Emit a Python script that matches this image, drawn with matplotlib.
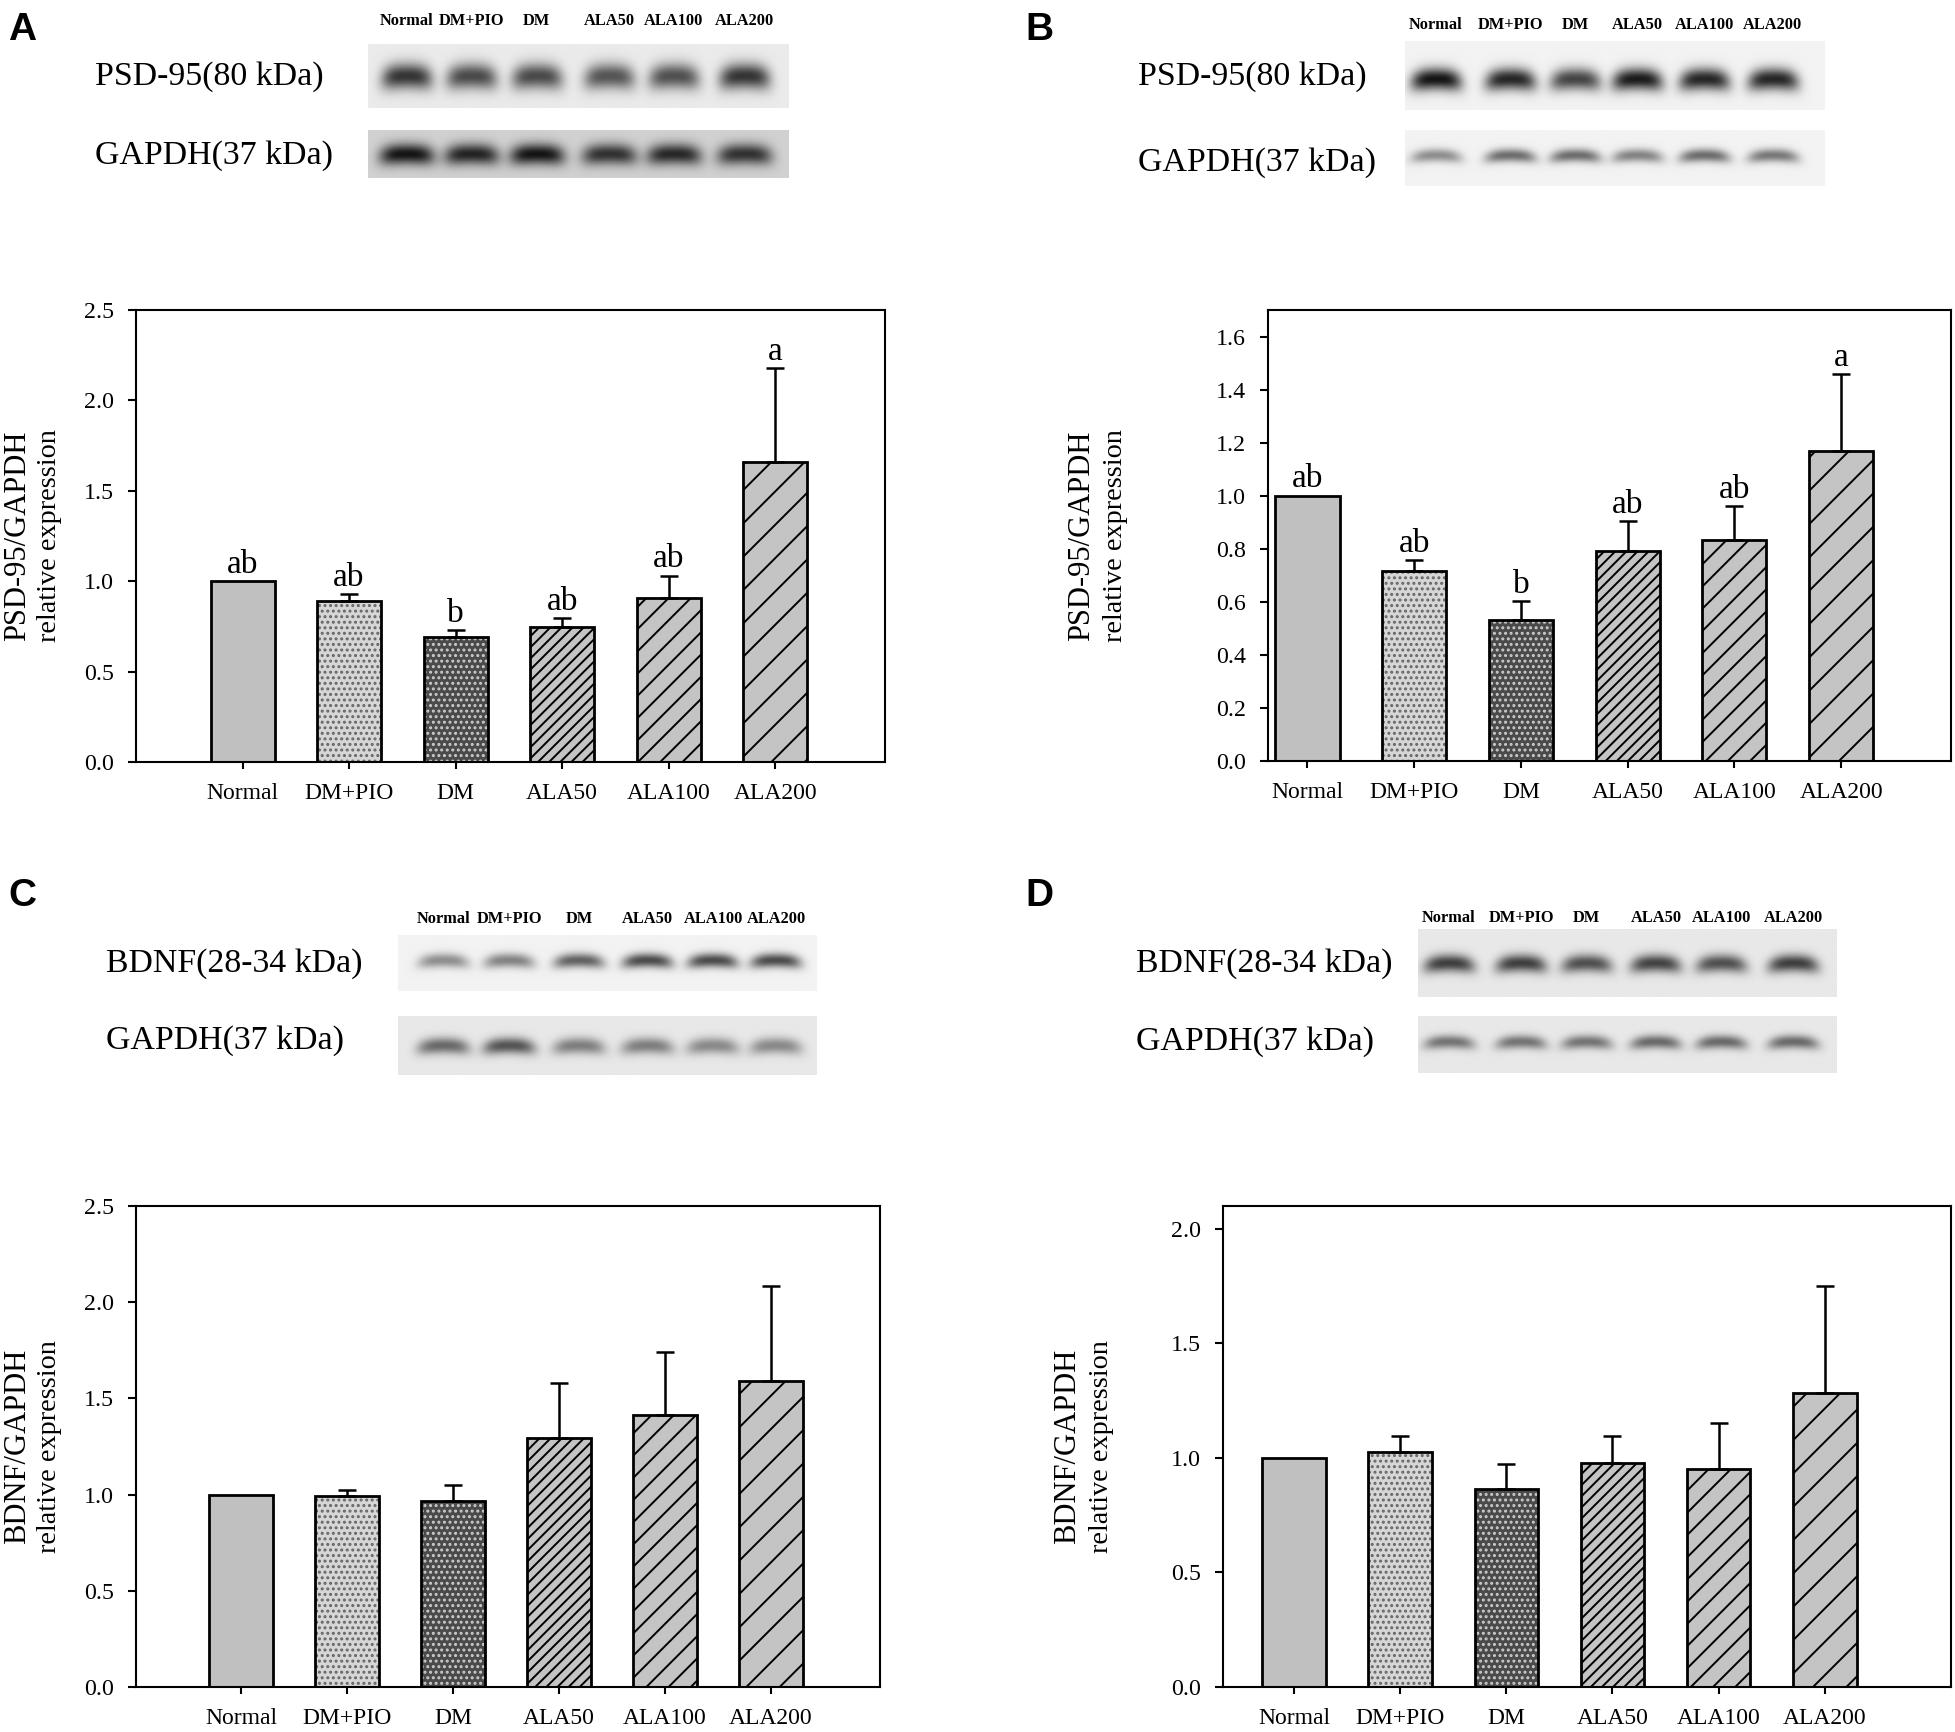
import numpy as np
import matplotlib.pyplot as plt

# ---- data ----
groups = ['Normal', 'DM+PIO', 'DM', 'ALA50', 'ALA100', 'ALA200']

psd_a_mean = [1.00, 0.89, 0.69, 0.745, 0.905, 1.657]
psd_a_err = [0.0, 0.04, 0.04, 0.05, 0.125, 0.52]
psd_a_sig = ['ab', 'ab', 'b', 'ab', 'ab', 'a']

psd_b_mean = [1.00, 0.715, 0.532, 0.79, 0.833, 1.167]
psd_b_err = [0.0, 0.043, 0.07, 0.114, 0.127, 0.292]
psd_b_sig = ['ab', 'ab', 'b', 'ab', 'ab', 'a']

bdnf_c_mean = [1.00, 0.995, 0.965, 1.295, 1.412, 1.593]
bdnf_c_err = [0.0, 0.028, 0.085, 0.285, 0.33, 0.492]

bdnf_d_mean = [1.00, 1.027, 0.864, 0.978, 0.951, 1.283]
bdnf_d_err = [0.0, 0.071, 0.109, 0.12, 0.201, 0.467]

# western blot band darkness per lane (0 = none, 1 = black)
blot_a_psd = [0.85, 0.75, 0.75, 0.70, 0.72, 0.85]
blot_a_gapdh = [1.0, 0.92, 1.0, 0.85, 0.9, 0.85]
blot_b_psd = [1.0, 0.92, 0.78, 0.97, 0.92, 0.92]
blot_b_gapdh = [0.45, 0.6, 0.6, 0.5, 0.6, 0.55]
blot_c_bdnf = [0.45, 0.5, 0.65, 0.75, 0.75, 0.75]
blot_c_gapdh = [0.6, 0.7, 0.5, 0.5, 0.45, 0.45]
blot_d_bdnf = [0.8, 0.8, 0.72, 0.78, 0.72, 0.8]
blot_d_gapdh = [0.55, 0.55, 0.55, 0.6, 0.6, 0.6]

W, H = 1955, 1732
plt.rcParams['font.family'] = ['Liberation Serif', 'DejaVu Serif']
plt.rcParams['hatch.linewidth'] = 0.7

fig = plt.figure(figsize=(W / 200, H / 200), dpi=200)


def px_axes(x0, y0, x1, y1):
    return fig.add_axes([x0 / W, 1 - y1 / H, (x1 - x0) / W, (y1 - y0) / H])


def fig_xy(x, y):
    return x / W, 1 - y / H


# bar styles: face, hatch colour, hatch
styles = [
    ('#c0c0c0', '#c0c0c0', None),
    ('#d6d6d6', '#666666', '......'),
    ('#4a4a4a', '#cccccc', '......'),
    ('#c4c4c4', 'black', '//////'),
    ('#c4c4c4', 'black', '///'),
    ('#c4c4c4', 'black', '//'),
]


def bar_panel(box, means, errs, ylim, yticks, xlim, sig=None, ylab1='', ylab_x=(0, 0)):
    ax = px_axes(*box)
    x = np.arange(len(groups))
    for i in range(len(groups)):
        face, hc, hatch = styles[i]
        ax.bar(x[i], means[i], width=0.6, color=face, edgecolor=hc,
               hatch=hatch, linewidth=0, zorder=2)
        ax.bar(x[i], means[i], width=0.6, facecolor='none', edgecolor='black',
               linewidth=1.0, zorder=3)
    e = np.array(errs)
    m = e > 0
    ax.errorbar(x[m], np.array(means)[m], yerr=[np.zeros(m.sum()), e[m]],
                fmt='none', ecolor='black', elinewidth=0.9, capsize=3.2,
                capthick=0.9, zorder=4)
    if sig is not None:
        for i in range(len(groups)):
            ax.annotate(sig[i], (x[i], means[i] + errs[i]), xytext=(0, 3),
                        textcoords='offset points', ha='center', va='baseline',
                        fontsize=12)
    ax.set_xlim(*xlim)
    ax.set_ylim(*ylim)
    ax.set_yticks(yticks)
    ax.set_yticklabels(['%.1f' % t for t in yticks])
    ax.set_xticks(x)
    ax.set_xticklabels(groups)
    ax.tick_params(axis='both', direction='out', width=0.75)
    ax.tick_params(axis='x', length=2.5, pad=5, labelsize=8.5)
    ax.tick_params(axis='y', length=2.9, pad=5, labelsize=8.6)
    for s in ax.spines.values():
        s.set_linewidth(0.75)
    yc = (box[1] + box[3]) / 2
    fig.text(*fig_xy(ylab_x[0], yc), ylab1, rotation=90, ha='center', va='center', fontsize=11)
    fig.text(*fig_xy(ylab_x[1], yc), 'relative expression', rotation=90, ha='center',
             va='center', fontsize=10.2)
    return ax


def blot(box, levels, lanes, bg, thick, ycen=0.5, wid=0.055):
    ax = px_axes(*box)
    ny, nx = 80, 400
    xx = np.linspace(0, 1, nx)[None, :]
    yy = np.linspace(0, 1, ny)[:, None]
    img = np.full((ny, nx), bg)
    for lvl, xc in zip(levels, lanes):
        shape_x = np.exp(-np.abs((xx - xc) / wid) ** 4)
        yc = ycen + 0.05 * ((xx - xc) / wid) ** 2
        shape_y = np.exp(-((yy - yc) / thick) ** 2)
        img = img - (bg - 0.08) * lvl * shape_x * shape_y
    ax.imshow(img, cmap='gray', vmin=0, vmax=1, extent=[0, 1, 0, 1],
              aspect='auto', origin='upper', interpolation='bilinear')
    ax.set_axis_off()
    return ax


def lane_labels(box, lanes, y):
    x0, x1 = box[0], box[2]
    for g, f in zip(groups, lanes):
        fig.text(*fig_xy(x0 + f * (x1 - x0), y), g, ha='center', va='center',
                 fontsize=5.9, fontweight='bold')


def panel_letter(x, y, s):
    fig.text(*fig_xy(x, y), s, ha='left', va='top', fontsize=14, fontweight='bold',
             family=['Liberation Sans', 'DejaVu Sans'])


# ---- panel A ----
lanes_a = [0.092, 0.246, 0.402, 0.574, 0.728, 0.896]
panel_letter(8, 12, 'A')
box = (368, 44, 788, 108)
blot(box, blot_a_psd, lanes_a, 0.92, 0.2, ycen=0.5, wid=0.06)
box2 = (368, 130, 788, 178)
blot(box2, blot_a_gapdh, lanes_a, 0.82, 0.22, ycen=0.5, wid=0.065)
lane_labels(box, lanes_a, 21)
fig.text(*fig_xy(95, 77), 'PSD-95(80 kDa)', ha='left', va='center', fontsize=12.2)
fig.text(*fig_xy(95, 156), 'GAPDH(37 kDa)', ha='left', va='center', fontsize=12.2)
bar_panel((136, 310, 885, 762), psd_a_mean, psd_a_err, (0, 2.5),
          [0, 0.5, 1.0, 1.5, 2.0, 2.5], (-1.0, 6.03), sig=psd_a_sig,
          ylab1='PSD-95/GAPDH', ylab_x=(18, 50))

# ---- panel B ----
lanes_b = [0.074, 0.251, 0.406, 0.554, 0.714, 0.878]
panel_letter(1025, 12, 'B')
box = (1405, 41, 1824, 110)
blot(box, blot_b_psd, lanes_b, 0.95, 0.16, ycen=0.55, wid=0.06)
box2 = (1405, 130, 1824, 186)
blot(box2, blot_b_gapdh, lanes_b, 0.95, 0.12, ycen=0.45, wid=0.06)
lane_labels(box, lanes_b, 25)
fig.text(*fig_xy(1138, 77), 'PSD-95(80 kDa)', ha='left', va='center', fontsize=12.2)
fig.text(*fig_xy(1138, 163), 'GAPDH(37 kDa)', ha='left', va='center', fontsize=12.2)
bar_panel((1268, 310, 1951, 761), psd_b_mean, psd_b_err, (0, 1.7),
          [0, 0.2, 0.4, 0.6, 0.8, 1.0, 1.2, 1.4, 1.6], (-0.37, 6.03), sig=psd_b_sig,
          ylab1='PSD-95/GAPDH', ylab_x=(1082, 1115))

# ---- panel C ----
lanes_c = [0.108, 0.265, 0.432, 0.596, 0.752, 0.903]
panel_letter(8, 878, 'C')
box = (398, 935, 817, 991)
blot(box, blot_c_bdnf, lanes_c, 0.95, 0.13, ycen=0.45, wid=0.06)
box2 = (398, 1016, 817, 1075)
blot(box2, blot_c_gapdh, lanes_c, 0.91, 0.14, ycen=0.5, wid=0.062)
lane_labels(box, lanes_c, 919)
fig.text(*fig_xy(106, 964), 'BDNF(28-34 kDa)', ha='left', va='center', fontsize=12.2)
fig.text(*fig_xy(106, 1041), 'GAPDH(37 kDa)', ha='left', va='center', fontsize=12.2)
bar_panel((136, 1206, 880, 1687), bdnf_c_mean, bdnf_c_err, (0, 2.5),
          [0, 0.5, 1.0, 1.5, 2.0, 2.5], (-0.99, 6.03),
          ylab1='BDNF/GAPDH', ylab_x=(18, 50))

# ---- panel D ----
lanes_d = [0.074, 0.246, 0.403, 0.568, 0.725, 0.897]
panel_letter(1025, 878, 'D')
box = (1418, 929, 1837, 997)
blot(box, blot_d_bdnf, lanes_d, 0.91, 0.13, ycen=0.5, wid=0.06)
box2 = (1418, 1016, 1837, 1073)
blot(box2, blot_d_gapdh, lanes_d, 0.91, 0.12, ycen=0.45, wid=0.06)
lane_labels(box, lanes_d, 918)
fig.text(*fig_xy(1136, 964), 'BDNF(28-34 kDa)', ha='left', va='center', fontsize=12.2)
fig.text(*fig_xy(1136, 1042), 'GAPDH(37 kDa)', ha='left', va='center', fontsize=12.2)
bar_panel((1223, 1206, 1951, 1687), bdnf_d_mean, bdnf_d_err, (0, 2.1),
          [0, 0.5, 1.0, 1.5, 2.0], (-0.67, 6.19),
          ylab1='BDNF/GAPDH', ylab_x=(1068, 1101))

fig.savefig('out.png', dpi=200)
